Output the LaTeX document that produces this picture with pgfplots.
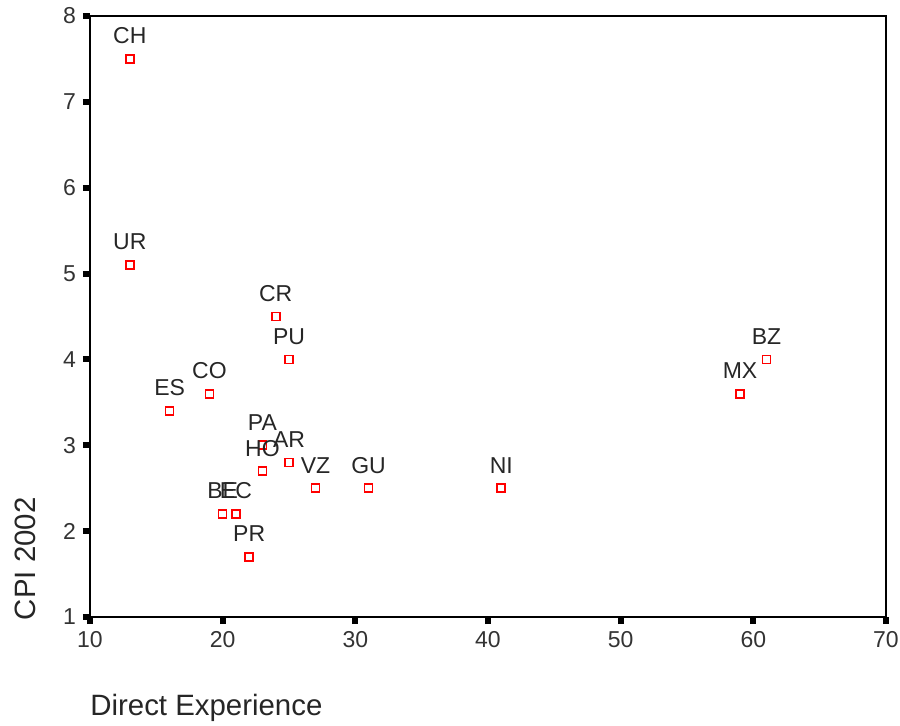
\documentclass[border=0pt]{standalone}
\usepackage{fontspec}
\setmainfont{Liberation Sans}
\usepackage{pgfplots}
\pgfplotsset{compat=1.18}
\begin{document}
\begin{tikzpicture}[x=0.5pt,y=0.5pt]
\path[use as bounding box] (-90,-108) rectangle (810,617);
\begin{axis}[
  at={(0,0)}, anchor=south west,
  scale only axis, width=398pt, height=300.5pt,
  xmin=10, xmax=70, ymin=1, ymax=8,
  xtick={10,20,...,70}, ytick={1,2,...,8},
  tick align=outside, xtick pos=bottom, ytick pos=left,
  major tick length=3.5pt,
  every tick/.style={black, line width=3pt},
  axis line style={line width=1pt},
  /pgf/number format/assume math mode=true,
  tick label style={font=\fontsize{11.5}{13}\selectfont, text=black!80},
  xlabel={Direct Experience}, ylabel={CPI 2002},
  label style={font=\fontsize{14.7}{16}\selectfont, text=black!85},
  xlabel style={at={(axis description cs:0.0,-0.152)}, anchor=west, inner sep=0pt},
  ylabel style={at={(axis description cs:-0.081,0.097)}, anchor=center, inner sep=0pt},
  clip=false,
]
\addplot[only marks, mark=square, mark size=2pt, red, mark options={line width=0.8pt},
  nodes near coords, point meta=explicit symbolic,
  every node near coord/.style={anchor=base, yshift=7.5pt, inner sep=0pt, text=black!85, font=\fontsize{11.5}{13}\selectfont}]
table[meta=label]{
x y label
13 7.5 CH
13 5.1 UR
24 4.5 CR
25 4.0 PU
16 3.4 ES
19 3.6 CO
23 3.0 PA
23 2.7 HO
25 2.8 AR
27 2.5 VZ
31 2.5 GU
41 2.5 NI
20 2.2 BE
21 2.2 EC
22 1.7 PR
59 3.6 MX
61 4.0 BZ
};
\end{axis}
\end{tikzpicture}
\end{document}
